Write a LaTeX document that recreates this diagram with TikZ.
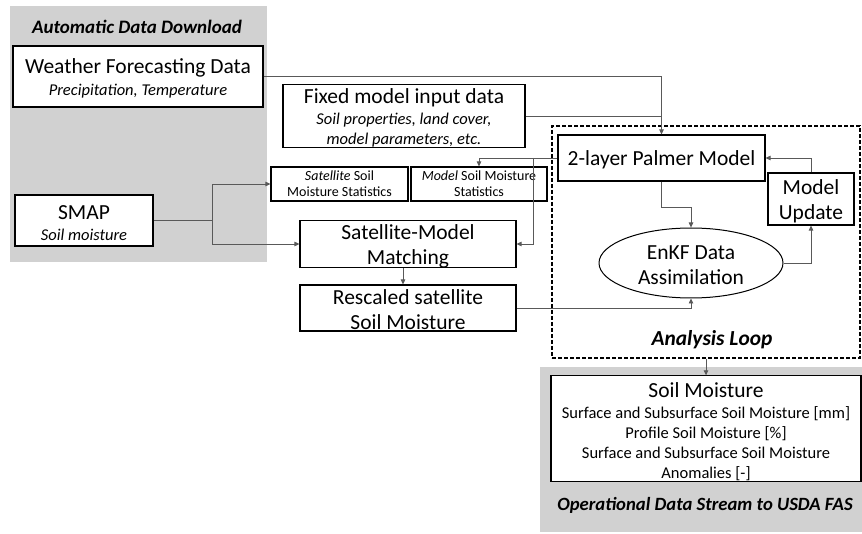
\documentclass[tikz,border=0pt]{standalone}
\usepackage{fontspec}
\setmainfont{Carlito}
\usetikzlibrary{shapes.geometric,arrows.meta}
\newcommand{\fbig}{\fontsize{21.5}{25}\selectfont}
\newcommand{\fsub}[1]{\fontsize{16.5}{#1}\selectfont}
\newcommand{\tallstrut}{\rule{0pt}{19pt}}
\newcommand{\talltallstrut}{\rule{0pt}{22pt}}
\begin{document}
\begin{tikzpicture}[x=1pt,y=-1pt,
  box/.style={draw=black,line width=1.1pt,fill=white,inner sep=0pt,align=center},
  big/.style={font=\fbig},
  conn/.style={draw=black!65,line width=0.8pt},
  arr/.style={conn,-{Triangle[length=5pt,width=4.5pt]}},
  hdr/.style={font=\fontsize{19}{21}\selectfont\bfseries\itshape,inner sep=0pt},
  grayfill/.style={fill=black!18,draw=none}
]
\useasboundingbox (0,0) rectangle (862,534);
% gray backgrounds
\path[grayfill] (10,6) rectangle (267,262);
\path[grayfill] (540,367) rectangle (862,532);
\node[hdr] (hdrA) at (137,27) {Automatic Data Download};
\node[hdr,font=\fontsize{18.7}{21}\selectfont\bfseries\itshape] (hdrO) at (705,505) {Operational Data Stream to USDA FAS};
% boxes
\node[box,minimum width=250pt,minimum height=61pt,font=\fsub{22}] (wf) at (138,76.5)
  {{\fbig\tallstrut Weather Forecasting Data}\\\itshape Precipitation, Temperature};
\node[box,minimum width=138pt,minimum height=51pt,font=\fsub{21}] (sm) at (84,220.5)
  {{\fbig\tallstrut SMAP}\\\itshape Soil moisture};
\node[box,minimum width=242pt,minimum height=60pt,font=\fsub{20.5}] (fx) at (404,116)
  {{\fbig\tallstrut Fixed model input data}\\\itshape Soil properties, land cover,\\\itshape model parameters, etc.};
\node[box,minimum width=137pt,minimum height=34pt,font=\fontsize{14}{16}\selectfont] (ss) at (339.5,184)
  {\textit{Satellite} Soil\\Moisture Statistics};
\node[box,minimum width=136pt,minimum height=34pt,font=\fontsize{14}{16}\selectfont] (ms) at (479,184)
  {\textit{Model} Soil Moisture\\Statistics};
\node[box,big,minimum width=216pt,minimum height=46pt] (mt) at (408,244)
  {\tallstrut Satellite-Model\\Matching};
\node[box,big,minimum width=216pt,minimum height=46pt] (rs) at (408,308)
  {\tallstrut Rescaled satellite\\Soil Moisture};
% analysis loop
\node[draw=black,dash pattern=on 4pt off 2pt,line width=1.1pt,minimum width=308pt,minimum height=232pt,inner sep=0pt] (loop) at (706,242) {};
\node[hdr,font=\fontsize{21.4}{23}\selectfont\bfseries\itshape] (hdrL) at (712,340) {Analysis Loop};
\node[box,big,minimum width=207pt,minimum height=46pt] (pal) at (661.5,158) {\tallstrut 2-layer Palmer Model};
\node[box,big,minimum width=86pt,minimum height=52pt] (mu) at (811,199) {\tallstrut Model\\Update};
\node[draw=black,line width=1pt,ellipse,fill=white,big,align=center,minimum width=184pt,minimum height=70pt,inner sep=0pt] (en) at (691,263) {\tallstrut EnKF Data\\Assimilation};
\node[box,minimum width=310pt,minimum height=103pt,font=\fsub{20}] (so) at (706,428.5)
  {{\fbig\talltallstrut Soil Moisture}\\[1pt]Surface and Subsurface Soil Moisture [mm]\\Profile Soil Moisture [\%]\\Surface and Subsurface Soil Moisture\\Anomalies [-]};
% connectors
\draw[arr] (wf.east) -| (pal.north);
\draw[conn] (fx.east) -- (fx.east -| pal.north);
\draw[arr] (pal.west) -| (ms.north);
\coordinate (jp) at (533,158);
\draw[arr] (jp) |- (mt.east);
\coordinate (js) at (212,220.5);
\draw[conn] (sm.east) -- (js);
\draw[arr] (js) |- (ss.west);
\draw[arr] (js) |- (mt.west);
\draw[arr] ([xshift=-5pt]mt.south) -- ([xshift=-5pt]rs.north);
\draw[arr] (rs.east) -| (en.south);
\draw[arr] (pal.south) -- ++(0,26) -| (en.north);
\draw[arr] (en.east) -| (mu.south);
\draw[arr] (mu.north) |- (pal.east);
\draw[arr] (loop.south) -- (so.north);
\end{tikzpicture}
\end{document}
